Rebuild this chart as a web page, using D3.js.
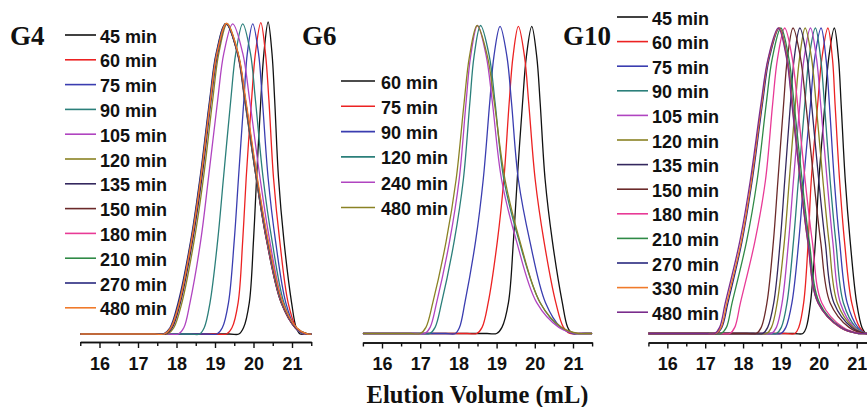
<!DOCTYPE html>
<html>
<head>
<meta charset="utf-8">
<script src="https://cdn.jsdelivr.net/npm/d3@7/dist/d3.min.js"></script>
<style>
  html, body { margin: 0; padding: 0; background: #fff; }
  svg { display: block; }
</style>
</head>
<body>
<svg id="chart" width="867" height="407"></svg>
<script>
// ---------- DATA ----------
// Normalised intensity levels at which each trace's elution volumes (mL) were read
const levels = [0, 0.02, 0.1, 0.3, 0.5, 0.75, 0.9, 1, 0.9, 0.75, 0.5, 0.3, 0.1, 0.02, 0];
const peakIndex = 7;
const tickLabels = [16, 17, 18, 19, 20, 21];
const axisExtent = [15.5, 21.5];

const g4Labels = ["45 min","60 min","75 min","90 min","105 min","120 min","135 min","150 min","180 min","210 min","270 min","480 min"];
const g4X = [
  [19.62, 19.74, 19.89, 20.00, 20.08, 20.19, 20.27, 20.38, 20.48, 20.55, 20.65, 20.79, 20.99, 21.11, 21.21],
  [19.30, 19.44, 19.60, 19.72, 19.81, 19.95, 20.05, 20.19, 20.31, 20.40, 20.52, 20.68, 20.90, 21.11, 21.28],
  [19.05, 19.19, 19.35, 19.50, 19.61, 19.75, 19.84, 19.98, 20.13, 20.23, 20.38, 20.57, 20.84, 21.09, 21.30],
  [18.60, 18.72, 18.87, 19.07, 19.22, 19.41, 19.54, 19.72, 19.92, 20.05, 20.25, 20.48, 20.79, 21.08, 21.32],
  [18.05, 18.19, 18.35, 18.63, 18.83, 19.07, 19.23, 19.46, 19.72, 19.90, 20.17, 20.42, 20.76, 21.08, 21.35],
  [17.76, 17.93, 18.14, 18.46, 18.70, 18.94, 19.10, 19.32, 19.60, 19.79, 20.08, 20.35, 20.73, 21.10, 21.40],
  [17.72, 17.89, 18.10, 18.42, 18.66, 18.90, 19.07, 19.30, 19.59, 19.78, 20.07, 20.34, 20.72, 21.09, 21.40],
  [17.70, 17.87, 18.08, 18.40, 18.64, 18.88, 19.05, 19.29, 19.58, 19.77, 20.07, 20.34, 20.72, 21.09, 21.40],
  [17.69, 17.86, 18.07, 18.39, 18.63, 18.88, 19.05, 19.29, 19.59, 19.78, 20.08, 20.35, 20.73, 21.10, 21.40],
  [17.68, 17.85, 18.06, 18.38, 18.62, 18.87, 19.04, 19.28, 19.59, 19.78, 20.08, 20.36, 20.74, 21.11, 21.40],
  [17.66, 17.83, 18.04, 18.37, 18.61, 18.86, 19.03, 19.28, 19.59, 19.79, 20.09, 20.37, 20.75, 21.11, 21.40],
  [17.68, 17.85, 18.07, 18.39, 18.63, 18.88, 19.05, 19.30, 19.60, 19.80, 20.10, 20.38, 20.76, 21.12, 21.40]
];
const g4Peak = [1.0, 0.998, 0.994, 0.994, 0.994, 0.995, 0.995, 0.995, 0.995, 0.995, 0.995, 0.996];

const g6Labels = ["60 min","75 min","90 min","120 min","240 min","480 min"];
const g6X = [
  [19.00, 19.14, 19.31, 19.44, 19.54, 19.68, 19.78, 19.92, 20.05, 20.14, 20.27, 20.46, 20.72, 20.86, 20.98],
  [18.48, 18.62, 18.78, 19.02, 19.19, 19.33, 19.43, 19.57, 19.73, 19.84, 20.01, 20.24, 20.55, 20.75, 20.92],
  [17.92, 18.03, 18.17, 18.45, 18.65, 18.82, 18.93, 19.09, 19.27, 19.39, 19.57, 19.87, 20.28, 20.68, 21.00],
  [17.25, 17.39, 17.56, 17.89, 18.13, 18.30, 18.41, 18.58, 18.81, 18.96, 19.19, 19.59, 20.14, 20.67, 21.10],
  [17.12, 17.26, 17.43, 17.77, 18.02, 18.20, 18.32, 18.50, 18.73, 18.89, 19.13, 19.52, 20.05, 20.63, 21.10],
  [17.00, 17.15, 17.33, 17.68, 17.94, 18.15, 18.29, 18.49, 18.76, 18.94, 19.22, 19.61, 20.14, 20.70, 21.15]
];
const g6Peak = [0.997, 0.997, 0.997, 1.0, 1.0, 1.0];

const g10Labels = ["45 min","60 min","75 min","90 min","105 min","120 min","135 min","150 min","180 min","210 min","270 min","330 min","480 min"];
const g10X = [
  [19.58, 19.67, 19.78, 19.91, 20.00, 20.16, 20.26, 20.41, 20.52, 20.59, 20.70, 20.83, 21.00, 21.14, 21.25],
  [19.37, 19.47, 19.60, 19.72, 19.80, 19.97, 20.08, 20.24, 20.36, 20.43, 20.55, 20.68, 20.87, 21.08, 21.25],
  [19.00, 19.13, 19.29, 19.47, 19.60, 19.78, 19.89, 20.06, 20.19, 20.28, 20.41, 20.55, 20.75, 21.03, 21.25],
  [18.88, 19.01, 19.16, 19.33, 19.46, 19.63, 19.74, 19.91, 20.05, 20.15, 20.30, 20.45, 20.65, 20.98, 21.25],
  [18.75, 18.88, 19.03, 19.20, 19.33, 19.50, 19.61, 19.78, 19.94, 20.05, 20.22, 20.37, 20.57, 20.94, 21.25],
  [18.62, 18.75, 18.90, 19.09, 19.22, 19.38, 19.49, 19.64, 19.81, 19.93, 20.11, 20.27, 20.49, 20.91, 21.25],
  [18.52, 18.65, 18.81, 18.98, 19.10, 19.25, 19.35, 19.50, 19.69, 19.81, 20.00, 20.17, 20.40, 20.87, 21.25],
  [18.35, 18.48, 18.63, 18.80, 18.92, 19.07, 19.17, 19.32, 19.52, 19.66, 19.87, 20.05, 20.30, 20.80, 21.20],
  [17.65, 17.78, 17.93, 18.31, 18.59, 18.78, 18.91, 19.10, 19.30, 19.44, 19.64, 19.83, 20.08, 20.64, 21.10],
  [17.42, 17.56, 17.71, 18.09, 18.37, 18.61, 18.77, 19.00, 19.21, 19.35, 19.56, 19.75, 20.02, 20.59, 21.05],
  [17.30, 17.44, 17.60, 17.97, 18.24, 18.51, 18.69, 18.96, 19.17, 19.31, 19.52, 19.72, 19.99, 20.57, 21.05],
  [17.28, 17.42, 17.57, 17.95, 18.22, 18.49, 18.67, 18.95, 19.16, 19.30, 19.51, 19.71, 19.98, 20.56, 21.05],
  [17.25, 17.38, 17.53, 17.91, 18.19, 18.47, 18.66, 18.93, 19.15, 19.29, 19.51, 19.71, 19.98, 20.57, 21.05]
];
const g10Peak = [1.0, 1.0, 1.0, 1.0, 1.0, 1.0, 1.0, 1.0, 1.0, 1.0, 1.0, 1.0, 1.0];

// ---------- STYLES ----------
const g4Colors  = ["#111111","#ec2222","#3a3db0","#2b7f7a","#b044c0","#8a8224","#34285e","#6b2a2a","#e83a96","#2f8a46","#28287e","#f07a2a"];
const g6Colors  = ["#111111","#ec2222","#3a3db0","#2b7f7a","#b044c0","#8a8224"];
const g10Colors = ["#111111","#ec2222","#3a3db0","#2b7f7a","#b044c0","#8a8224","#34285e","#6b2a2a","#e83a96","#2f8a46","#28287e","#f07a2a","#7a2c8c"];

const panels = [
  { name: "G4", labels: g4Labels, xs: g4X, peaks: g4Peak, colors: g4Colors,
    x0: 80.25, x1: 311.25, yBase: 334, yTop: 22, axisY: 342,
    title: { x: 10, y: 44.5, anchor: "start" },
    legend: { x1: 65, x2: 96, tx: 100, y0: 36, dy: 24.8 } },
  { name: "G6", labels: g6Labels, xs: g6X, peaks: g6Peak, colors: g6Colors,
    x0: 362.9, x1: 592.1, yBase: 333.5, yTop: 25.5, axisY: 342.5,
    title: { x: 302, y: 44.5, anchor: "start" },
    legend: { x1: 341, x2: 375, tx: 381, y0: 82, dy: 25.3 } },
  { name: "G10", labels: g10Labels, xs: g10X, peaks: g10Peak, colors: g10Colors,
    x0: 648.4, x1: 875.6, yBase: 333.5, yTop: 28, axisY: 342.5,
    title: { x: 611, y: 44.5, anchor: "end" },
    legend: { x1: 617, x2: 648, tx: 652, y0: 18, dy: 24.6 } }
];

const svg = d3.select("#chart");
const sans = "'Liberation Sans', Arial, sans-serif";
const serif = "'Liberation Serif', 'Times New Roman', serif";

panels.forEach(p => {
  const x = d3.scaleLinear().domain(axisExtent).range([p.x0, p.x1]);
  const y = d3.scaleLinear().domain([0, 1]).range([p.yBase, p.yTop]);
  const g = svg.append("g");

  const line = d3.line()
    .x(d => x(d[0]))
    .y(d => y(d[1]))
    .curve(d3.curveCatmullRom.alpha(0.5));

  p.xs.forEach((xsRow, i) => {
    const first = xsRow[0], last = xsRow[xsRow.length - 1];
    // flat baseline on both sides of the peak
    const pts = [[axisExtent[0], 0], [first - 0.25, 0]];
    xsRow.forEach((v, k) => pts.push([v, k === peakIndex ? p.peaks[i] : levels[k]]));
    if (last + 0.18 < axisExtent[1]) pts.push([last + 0.18, 0]);
    pts.push([axisExtent[1], 0]);
    g.append("path")
      .attr("d", line(pts))
      .attr("fill", "none")
      .attr("stroke", p.colors[i])
      .attr("stroke-width", 1.3);
  });

  // axes
  const minorVals = d3.range(axisExtent[0], axisExtent[1] + 0.001, 0.5).filter(v => Math.abs(v - Math.round(v)) > 0.01);
  const minorAxis = d3.axisBottom(x).tickValues(minorVals).tickSize(4).tickSizeOuter(0).tickFormat("");
  const majorAxis = d3.axisBottom(x).tickValues(tickLabels).tickSize(6).tickSizeOuter(0).tickPadding(9).tickFormat(d3.format("d"));
  const ga = g.append("g").attr("transform", `translate(0,${p.axisY})`);
  ga.append("g").call(minorAxis);
  ga.append("g").call(majorAxis);
  ga.selectAll("path.domain").attr("stroke", "#111").attr("stroke-width", 1.5);
  ga.selectAll(".tick line").attr("stroke", "#111").attr("stroke-width", 1.4);
  ga.selectAll(".tick text")
    .attr("font-family", sans).attr("font-weight", "bold").attr("font-size", 18).attr("fill", "#111");

  // title
  g.append("text")
    .attr("x", p.title.x).attr("y", p.title.y)
    .attr("text-anchor", p.title.anchor)
    .attr("font-family", serif).attr("font-weight", "bold").attr("font-size", 27)
    .attr("fill", "#111")
    .text(p.name);

  // legend
  p.labels.forEach((lab, i) => {
    const cy = p.legend.y0 + i * p.legend.dy;
    g.append("line")
      .attr("x1", p.legend.x1).attr("x2", p.legend.x2)
      .attr("y1", cy - 1).attr("y2", cy - 1)
      .attr("stroke", p.colors[i]).attr("stroke-width", 1.6);
    g.append("text")
      .attr("x", p.legend.tx).attr("y", cy + 6.5)
      .attr("font-family", sans).attr("font-weight", "bold").attr("font-size", 18)
      .attr("fill", "#111")
      .text(lab);
  });
});

svg.append("text")
  .attr("x", 477.5).attr("y", 402.5)
  .attr("text-anchor", "middle")
  .attr("font-family", serif).attr("font-weight", "bold").attr("font-size", 24.5)
  .attr("fill", "#111")
  .text("Elution Volume (mL)");
</script>
</body>
</html>
